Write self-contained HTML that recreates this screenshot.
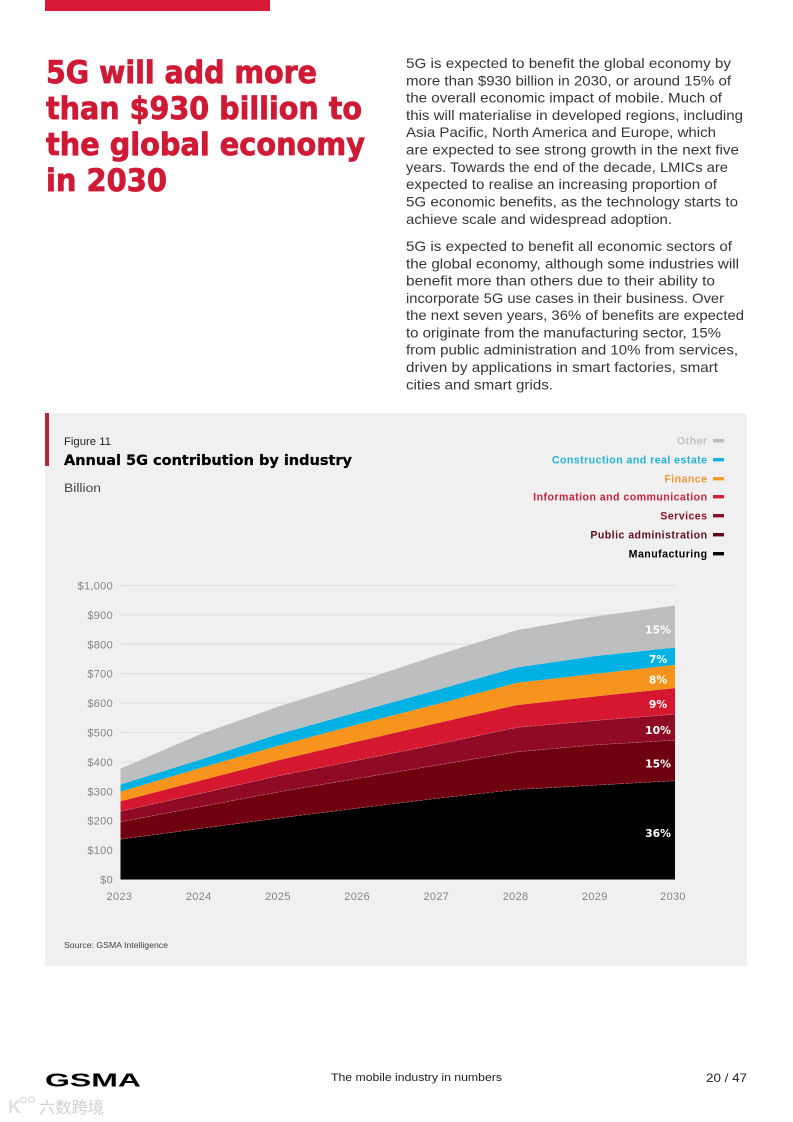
<!DOCTYPE html>
<html lang="en">
<head>
<meta charset="utf-8">
<title>Annual 5G contribution by industry</title>
<style>
html,body{margin:0;padding:0;background:#fff;width:793px;height:1122px;overflow:hidden}
svg{display:block;position:absolute;left:0;top:0}
text{font-family:"Liberation Sans","Noto Sans CJK SC",sans-serif}
.h{font-family:"DejaVu Sans","Liberation Sans",sans-serif;font-size:31.5px;font-weight:bold;fill:#cf1a36;stroke:#cf1a36;stroke-width:.8px}
.b{font-size:13.6px;fill:#363636}
.tick{font-size:11px;fill:#858585;letter-spacing:.3px}
.lg{font-size:10.6px;font-weight:bold;letter-spacing:.45px}
.pct{font-family:"DejaVu Sans","Liberation Sans",sans-serif;font-size:10.8px;font-weight:bold;fill:#fff;text-anchor:middle}
</style>
</head>
<body>
<svg id="page" width="793" height="1122" viewBox="0 0 793 1122">
<rect x="45" y="0" width="225" height="11" fill="#d91a36"/>
<g>
<text class="h" x="46" y="83" textLength="271" lengthAdjust="spacingAndGlyphs">5G will add more</text>
<text class="h" x="46" y="119" textLength="316" lengthAdjust="spacingAndGlyphs">than $930 billion to</text>
<text class="h" x="46" y="155" textLength="319" lengthAdjust="spacingAndGlyphs">the global economy</text>
<text class="h" x="46" y="191" textLength="121" lengthAdjust="spacingAndGlyphs">in 2030</text>
</g>
<g>
<text class="b" x="406" y="68" textLength="325" lengthAdjust="spacingAndGlyphs">5G is expected to benefit the global economy by</text>
<text class="b" x="406" y="85.3" textLength="325" lengthAdjust="spacingAndGlyphs">more than $930 billion in 2030, or around 15% of</text>
<text class="b" x="406" y="102.6" textLength="316" lengthAdjust="spacingAndGlyphs">the overall economic impact of mobile. Much of</text>
<text class="b" x="406" y="120" textLength="337" lengthAdjust="spacingAndGlyphs">this will materialise in developed regions, including</text>
<text class="b" x="406" y="137.2" textLength="310" lengthAdjust="spacingAndGlyphs">Asia Pacific, North America and Europe, which</text>
<text class="b" x="406" y="154.5" textLength="333" lengthAdjust="spacingAndGlyphs">are expected to see strong growth in the next five</text>
<text class="b" x="406" y="171.8" textLength="322" lengthAdjust="spacingAndGlyphs">years. Towards the end of the decade, LMICs are</text>
<text class="b" x="406" y="189.2" textLength="311" lengthAdjust="spacingAndGlyphs">expected to realise an increasing proportion of</text>
<text class="b" x="406" y="206.5" textLength="332" lengthAdjust="spacingAndGlyphs">5G economic benefits, as the technology starts to</text>
<text class="b" x="406" y="224" textLength="266" lengthAdjust="spacingAndGlyphs">achieve scale and widespread adoption.</text>
</g>
<g>
<text class="b" x="406" y="251" textLength="326" lengthAdjust="spacingAndGlyphs">5G is expected to benefit all economic sectors of</text>
<text class="b" x="406" y="268.3" textLength="333" lengthAdjust="spacingAndGlyphs">the global economy, although some industries will</text>
<text class="b" x="406" y="285.5" textLength="309" lengthAdjust="spacingAndGlyphs">benefit more than others due to their ability to</text>
<text class="b" x="406" y="303" textLength="318" lengthAdjust="spacingAndGlyphs">incorporate 5G use cases in their business. Over</text>
<text class="b" x="406" y="320" textLength="338" lengthAdjust="spacingAndGlyphs">the next seven years, 36% of benefits are expected</text>
<text class="b" x="406" y="337.3" textLength="315" lengthAdjust="spacingAndGlyphs">to originate from the manufacturing sector, 15%</text>
<text class="b" x="406" y="354.6" textLength="332" lengthAdjust="spacingAndGlyphs">from public administration and 10% from services,</text>
<text class="b" x="406" y="372" textLength="312" lengthAdjust="spacingAndGlyphs">driven by applications in smart factories, smart</text>
<text class="b" x="406" y="389.3" textLength="147" lengthAdjust="spacingAndGlyphs">cities and smart grids.</text>
</g>
<rect x="45" y="413" width="702" height="553" fill="#f0f0f0"/>
<rect x="45" y="413" width="4" height="53" fill="#b5263e"/>
<text x="64" y="445" font-size="11" fill="#222" textLength="47" lengthAdjust="spacingAndGlyphs">Figure 11</text>
<text x="64" y="465" font-size="14.2" font-weight="bold" fill="#000" stroke="#000" stroke-width=".25" style="font-family:'DejaVu Sans','Liberation Sans',sans-serif" textLength="288" lengthAdjust="spacingAndGlyphs">Annual 5G contribution by industry</text>
<text x="64" y="492" font-size="11.5" fill="#444" textLength="37" lengthAdjust="spacingAndGlyphs">Billion</text>
<g id="grid"></g>
<g id="yaxis"></g>
<g id="areas"></g>
<g id="xaxis"></g>
<g id="pcts"></g>
<g id="legend"></g>
<text x="64" y="948" font-size="8" fill="#444" textLength="104" lengthAdjust="spacingAndGlyphs">Source: GSMA Intelligence</text>
<text x="45" y="1086.5" font-size="18.5" font-weight="bold" fill="#000" textLength="96" lengthAdjust="spacingAndGlyphs">GSMA</text>
<text x="331" y="1081" font-size="11" fill="#222" textLength="171" lengthAdjust="spacingAndGlyphs">The mobile industry in numbers</text>
<text x="706" y="1082" font-size="12" fill="#222" textLength="41" lengthAdjust="spacingAndGlyphs">20 / 47</text>
<g>
<text x="8" y="1113" font-size="18" font-weight="bold" fill="#e0e0e0">K</text>
<circle cx="23.5" cy="1100" r="2.8" fill="none" stroke="#d4d4d4" stroke-width="1"/>
<circle cx="31.5" cy="1099.5" r="2.8" fill="none" stroke="#d4d4d4" stroke-width="1"/>
<text x="39" y="1113" font-size="16" fill="#d0d0d0" textLength="65" lengthAdjust="spacingAndGlyphs">六数跨境</text>
</g>
</svg>
<script>
const years = ['2023','2024','2025','2026','2027','2028','2029','2030'];
const yTickValues = [0,100,200,300,400,500,600,700,800,900,1000];
const yTickLabels = ['$0','$100','$200','$300','$400','$500','$600','$700','$800','$900','$1,000'];
const manufacturing = [137,173,209,243,276,306,321,336];
const publicAdministration = [59,74,89,101,113,128,137,138];
const services = [36,45,55,62,71,83,83,88];
const informationCommunication = [34,44,53,64,72,76,82,89];
const finance = [33,43,50,58,65,76,77,79];
const construction = [24,28,39,42,48,52,60,59];
const other = [54,86,94,103,118,127,135,143];
const seriesNames = ['Manufacturing','Public administration','Services','Information and communication','Finance','Construction and real estate','Other'];
const shareLabels = ['36%','15%','10%','9%','8%','7%','15%'];

const NS = 'http://www.w3.org/2000/svg';
const seriesValues = [manufacturing, publicAdministration, services, informationCommunication, finance, construction, other];
const seriesColors = ['#000000','#6e000f','#8f0a24','#d5182f','#f7941d','#00b2e3','#bcbec0'];
const legendColors = ['#000000','#5a0a16','#8a0f28','#d0203a','#f39a2a','#12b5dc','#bdbfc1'];
const legendTextColors = ['#000000','#5f0f1d','#85152d','#c9233d','#eb9b38','#22b3d6','#c2c4c6'];
const x0 = 120.5, x1 = 675, y0 = 879.5, y1 = 585.5;
function xScale(i){ return x0 + (x1 - x0) * i / (years.length - 1); }
function yScale(v){ return y0 + (y1 - y0) * v / 1000; }
function make(tag, attrs, txt){
  const e = document.createElementNS(NS, tag);
  for (const k in attrs) e.setAttribute(k, attrs[k]);
  if (txt !== undefined) e.textContent = txt;
  return e;
}
const grid = document.getElementById('grid');
const yaxis = document.getElementById('yaxis');
yTickValues.forEach(function(v, i){
  const l = make('line', {x1:x0, x2:x1, y1:yScale(v), y2:yScale(v), stroke:'#dedede', 'stroke-width':1});
  
  
  grid.appendChild(l);
  const t = make('text', {x:113, y:yScale(v)+4, 'text-anchor':'end', class:'tick'}, yTickLabels[i]);
  
  
  yaxis.appendChild(t);
});
const xaxis = document.getElementById('xaxis');
years.forEach(function(y, i){
  const cx = i === years.length - 1 ? xScale(i) - 2 : xScale(i) - 1;
  const t = make('text', {x:cx, y:900, 'text-anchor':'middle', class:'tick'}, y);
  
  
  xaxis.appendChild(t);
});
const areas = document.getElementById('areas');
const pcts = document.getElementById('pcts');
const base = years.map(function(){ return 0; });
const tops = [];
seriesValues.forEach(function(vals, s){
  const lower = base.slice();
  const upper = vals.map(function(v, i){ return lower[i] + v; });
  const fwd = upper.map(function(v, i){ return xScale(i).toFixed(2) + ',' + yScale(v).toFixed(2); });
  const back = lower.map(function(v, i){ return xScale(i).toFixed(2) + ',' + yScale(v).toFixed(2); }).reverse();
  const p = make('polygon', {points: fwd.concat(back).join(' '), fill: seriesColors[s]});
  
  
  areas.appendChild(p);
  tops.push(fwd.join(' '));
  upper.forEach(function(v, i){ base[i] = v; });
  const last = years.length - 1;
  const my = yScale((lower[last] + upper[last]) / 2);
  const t = make('text', {x:658, y:my + 7, class:'pct'}, shareLabels[s]);
  
  
  pcts.appendChild(t);
});
[0,1,2].forEach(function(s){
  const o = make('polyline', {points:tops[s], fill:'none', stroke:'#d98a94', 'stroke-width':.6, 'stroke-opacity':.8, 'stroke-dasharray':'3 1.5'});
  
  
  areas.appendChild(o);
});
const legend = document.getElementById('legend');
const legendRows = [554,535,516,497,479,460,441];
seriesNames.forEach(function(n, s){
  const g = make('g', {});
  
  
  const t = make('text', {x:707.5, y:legendRows[s] + 3.7, 'text-anchor':'end', class:'lg', fill:legendTextColors[s]}, n);
  
  
  g.appendChild(t);
  const r = make('rect', {x:713, y:legendRows[s] - 2, width:11, height:3.4, fill:legendColors[s]});
  
  
  g.appendChild(r);
  legend.appendChild(g);
});
</script>
</body>
</html>
